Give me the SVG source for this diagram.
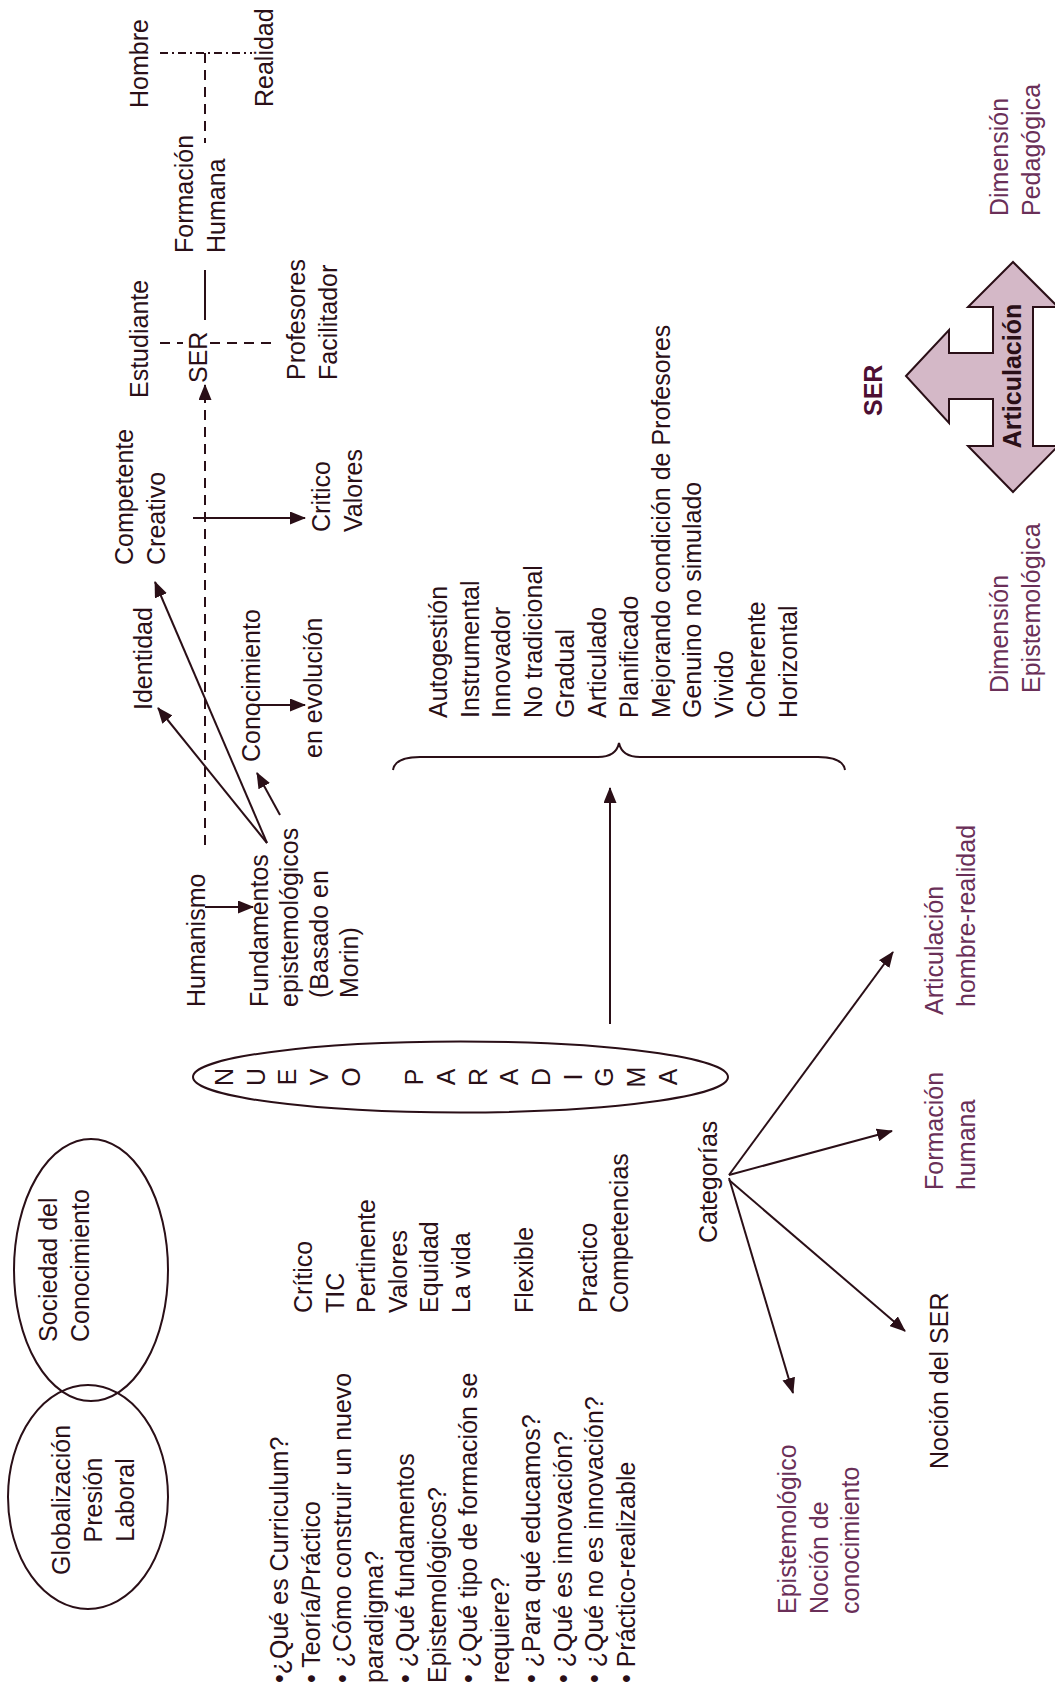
<svg xmlns="http://www.w3.org/2000/svg" width="1055" height="1694" viewBox="0 0 1055 1694">
<defs>
<marker id="ah" viewBox="0 0 16 13" refX="15" refY="6.5" markerWidth="16" markerHeight="13" orient="auto" markerUnits="userSpaceOnUse"><path d="M0,0 L16,6.5 L0,13 z" fill="#2a0f17"/></marker>
</defs>
<style>
text{font-family:"Liberation Sans",Arial,sans-serif;font-size:25px;fill:#2a0f17}
.p{fill:#6a2f58}
.b{font-weight:bold}
.ln{stroke:#2a0f17;stroke-width:2;fill:none}
.ds{stroke-dasharray:10 7}
.dd{stroke-dasharray:8 4 2 4}
.ar{marker-end:url(#ah)}
.m{text-anchor:middle}
.sh{fill:none;stroke:#2a0f17;stroke-width:2}
</style>
<rect width="1055" height="1694" fill="#fff"/>

<g id="connectors" class="ln">
<line x1="160" y1="53" x2="252" y2="53" class="dd"/>
<line x1="205" y1="53" x2="205" y2="143" class="ds"/>
<line x1="205" y1="270" x2="205" y2="320"/>
<line x1="160" y1="343" x2="183" y2="343" class="ds"/>
<line x1="210" y1="343" x2="273" y2="343" class="ds"/>
<path d="M205 845 V398" class="ds"/>
<line x1="205" y1="400" x2="205" y2="385" class="ar"/>
<line x1="193" y1="518" x2="305" y2="518" class="ar"/>
<line x1="253" y1="705" x2="305" y2="705" class="ar"/>
<line x1="267" y1="843" x2="158" y2="708" class="ar"/>
<line x1="267" y1="843" x2="155" y2="582" class="ar"/>
<line x1="280" y1="815" x2="257" y2="773" class="ar"/>
<line x1="205" y1="907" x2="253" y2="907" class="ar"/>
<line x1="610" y1="1024" x2="610" y2="788" class="ar"/>
<line x1="729" y1="1175" x2="893" y2="952" class="ar"/>
<line x1="729" y1="1175" x2="892" y2="1131" class="ar"/>
<line x1="729" y1="1180" x2="905" y2="1331" class="ar"/>
<line x1="729" y1="1178" x2="793" y2="1393" class="ar"/>
<path d="M393 770 Q395 757 420 757 L598 757 Q616 757 619 743 Q622 757 640 757 L818 757 Q843 757 845 770"/>
</g>

<g id="n-hombre" transform="rotate(-90)"><text x="-108" y="148">Hombre</text></g>
<g id="n-realidad" transform="rotate(-90)"><text x="-107" y="273">Realidad</text></g>
<g id="n-formacion-humana" transform="rotate(-90)"><text x="-253" y="193">Formación</text><text x="-253" y="225">Humana</text></g>
<g id="n-estudiante" transform="rotate(-90)"><text x="-398" y="148">Estudiante</text></g>
<g id="n-ser" transform="rotate(-90)"><text x="-383" y="207">SER</text></g>
<g id="n-profesores" transform="rotate(-90)"><text x="-380" y="305">Profesores</text><text x="-380" y="337">Facilitador</text></g>
<g id="n-competente" transform="rotate(-90)"><text x="-565" y="133">Competente</text><text x="-565" y="165">Creativo</text></g>
<g id="n-critico" transform="rotate(-90)"><text x="-532" y="330">Critico</text><text x="-532" y="362">Valores</text></g>
<g id="n-identidad" transform="rotate(-90)"><text x="-710" y="152">Identidad</text></g>
<g id="n-conocimiento" transform="rotate(-90)"><text x="-762" y="260">Conocimiento</text></g>
<g id="n-evolucion" transform="rotate(-90)"><text x="-758" y="322">en evolución</text></g>
<g id="n-humanismo" transform="rotate(-90)"><text x="-1007" y="205">Humanismo</text></g>
<g id="n-fundamentos" transform="rotate(-90)"><text x="-1007" y="268">Fundamentos</text><text x="-1007" y="298">epistemológicos</text><text x="-998" y="328">(Basado en</text><text x="-998" y="358">Morin)</text></g>

<g id="n-lista" transform="rotate(-90)">
<text x="-718" y="447">Autogestión</text>
<text x="-718" y="479">Instrumental</text>
<text x="-718" y="510">Innovador</text>
<text x="-718" y="542">No tradicional</text>
<text x="-718" y="574">Gradual</text>
<text x="-718" y="606">Articulado</text>
<text x="-718" y="638">Planificado</text>
<text x="-718" y="670">Mejorando condición de Profesores</text>
<text x="-718" y="701">Genuino no simulado</text>
<text x="-718" y="733">Vivido</text>
<text x="-718" y="765">Coherente</text>
<text x="-718" y="797">Horizontal</text>
</g>

<g id="n-nuevo-paradigma">
<ellipse cx="460.5" cy="1077" rx="267.5" ry="35.5" class="sh"/>
<g transform="rotate(-90)" class="m">
<text x="-1077" y="233">N</text><text x="-1077" y="264.5">U</text><text x="-1077" y="296">E</text><text x="-1077" y="328">V</text><text x="-1077" y="360">O</text>
<text x="-1077" y="423">P</text><text x="-1077" y="455">A</text><text x="-1077" y="486.5">R</text><text x="-1077" y="518">A</text><text x="-1077" y="550">D</text><text x="-1077" y="581.5">I</text><text x="-1077" y="613">G</text><text x="-1077" y="645">M</text><text x="-1077" y="676.5">A</text>
</g>
</g>

<g id="n-criterios" transform="rotate(-90)">
<text x="-1313" y="312">Crítico</text>
<text x="-1313" y="344">TIC</text>
<text x="-1313" y="375">Pertinente</text>
<text x="-1313" y="407">Valores</text>
<text x="-1313" y="438">Equidad</text>
<text x="-1313" y="470">La vida</text>
<text x="-1313" y="533">Flexible</text>
<text x="-1313" y="597">Practico</text>
<text x="-1313" y="628">Competencias</text>
</g>

<g id="n-categorias" transform="rotate(-90)"><text x="-1243" y="717">Categorías</text></g>
<g id="n-articulacion-hr" transform="rotate(-90)"><text x="-1015" y="943" class="p">Articulación</text><text x="-1007" y="975" class="p">hombre-realidad</text></g>
<g id="n-formacion" transform="rotate(-90)"><text x="-1190" y="943" class="p">Formación</text><text x="-1190" y="975" class="p">humana</text></g>
<g id="n-nocion-ser" transform="rotate(-90)"><text x="-1469" y="948">Noción del SER</text></g>
<g id="n-epistemologico" transform="rotate(-90)"><text x="-1614" y="796" class="p">Epistemológico</text><text x="-1614" y="828" class="p">Noción de</text><text x="-1614" y="859" class="p">conocimiento</text></g>

<g id="n-sociedad">
<ellipse cx="91" cy="1270" rx="77" ry="131" class="sh"/>
<g transform="rotate(-90)"><text x="-1342" y="57">Sociedad del</text><text x="-1342" y="89">Conocimiento</text></g>
</g>
<g id="n-globalizacion">
<ellipse cx="88" cy="1497" rx="80" ry="112" class="sh"/>
<g transform="rotate(-90)" class="m"><text x="-1500" y="70">Globalización</text><text x="-1500" y="102">Presión</text><text x="-1500" y="134">Laboral</text></g>
</g>

<g id="n-preguntas" transform="rotate(-90)" style="font-size:24.5px">
<text x="-1683" y="288">•¿Qué es Curriculum?</text>
<text x="-1683" y="320">• Teoría/Práctico</text>
<text x="-1683" y="351">• ¿Cómo construir un  nuevo</text>
<text x="-1683" y="383">paradigma?</text>
<text x="-1683" y="414">• ¿Qué fundamentos</text>
<text x="-1683" y="446">Epistemológicos?</text>
<text x="-1683" y="477">• ¿Qué tipo de formación se</text>
<text x="-1683" y="509">requiere?</text>
<text x="-1683" y="540">• ¿Para qué educamos?</text>
<text x="-1683" y="572">• ¿Qué es innovación?</text>
<text x="-1683" y="603">• ¿Qué no es innovación?</text>
<text x="-1683" y="635">• Práctico-realizable</text>
</g>

<g id="n-articulacion">
<path d="M906 376 L949 330 L949 353 L993 353 L993 307 L968 307 L1013 262 L1058 307 L1033 307 L1033 446 L1058 446 L1013 492 L968 446 L993 446 L993 399 L949 399 L949 423 Z" fill="#d4b8c7" stroke="#2a0f17" stroke-width="2"/>
<g transform="rotate(-90)"><text x="-376" y="1021" class="m b">Articulación</text></g>
</g>
<g id="n-ser-dim" transform="rotate(-90)"><text x="-416" y="882" class="b" style="fill:#4d0f33">SER</text></g>
<g id="n-dim-ped" transform="rotate(-90)"><text x="-216" y="1008" class="p">Dimensión</text><text x="-216" y="1040" class="p">Pedagógica</text></g>
<g id="n-dim-epi" transform="rotate(-90)"><text x="-693" y="1008" class="p">Dimensión</text><text x="-693" y="1040" class="p">Epistemológica</text></g>
</svg>
